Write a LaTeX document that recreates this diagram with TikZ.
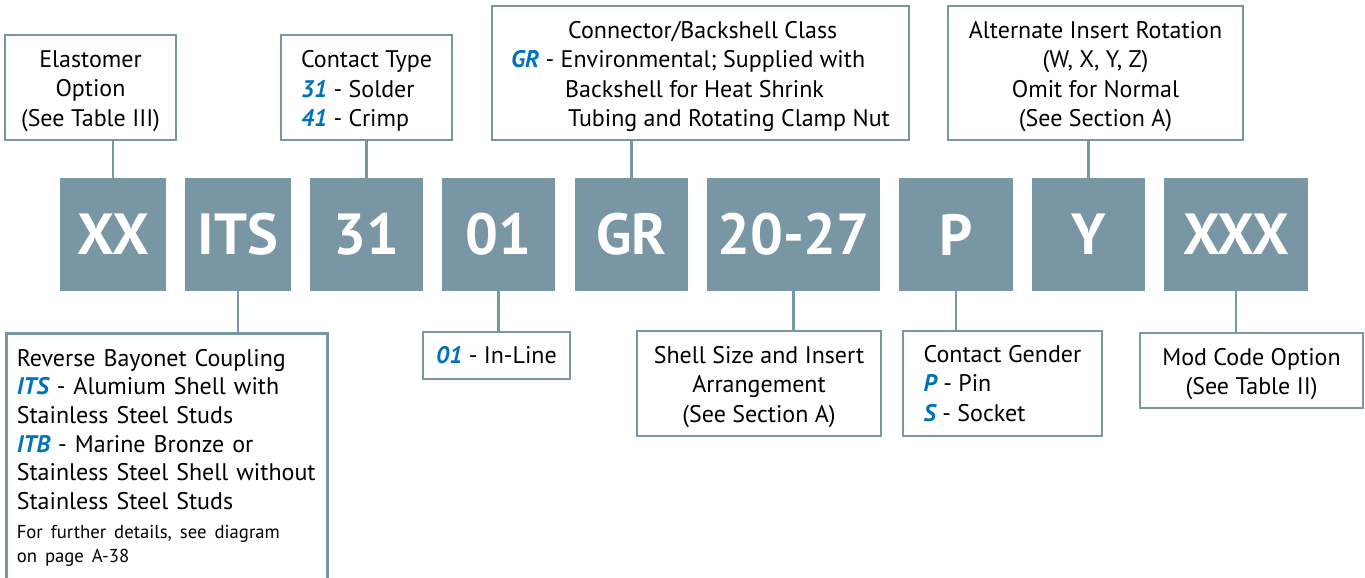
\documentclass[tikz,border=0pt]{standalone}
\usepackage{fontspec}
\setmainfont{PT Sans}
\definecolor{slate}{RGB}{121,150,164}
\definecolor{selblue}{RGB}{0,114,188}
\newcommand{\sel}[1]{{\color{selblue}\bfseries\itshape #1}}
\newcommand{\fine}{\fontsize{18.7}{24}\selectfont}
\newcommand{\lift}{\rule{0pt}{24pt}}

\begin{document}
\begin{tikzpicture}[x=1pt,y=1pt,yscale=-1,xscale=1,
  codebox/.style={fill=slate, text=white, minimum height=113pt, inner sep=0pt,
    font=\fontsize{58}{60}\selectfont\bfseries},
  infobox/.style={draw=slate, line width=2.6pt, fill=white, inner sep=0pt,
    font=\fontsize{24}{29.5}\selectfont},
  link/.style={draw=slate, line width=2.6pt}]
\useasboundingbox (0,0) rectangle (1365,578);
\clip (0,0) rectangle (1365,578);

% Code boxes
\node [codebox, minimum width=106pt] (xx)  at (113,234.5)   {XX};
\node [codebox, minimum width=106pt] (its) at (238,234.5)   {ITS};
\node [codebox, minimum width=113pt] (ct)  at (366.5,234.5) {31};
\node [codebox, minimum width=113pt] (sty) at (498.5,234.5) {01};
\node [codebox, minimum width=113pt] (cls) at (631.5,234.5) {GR};
\node [codebox, minimum width=173pt] (sz)  at (793.5,234.5) {20-27};
\node [codebox, minimum width=114pt] (gen) at (956,234.5)   {P};
\node [codebox, minimum width=113pt] (rot) at (1088.5,234.5) {Y};
\node [codebox, minimum width=144pt] (mod) at (1236,234.5)  {XXX};

% Top boxes
\node [infobox, minimum width=171pt, minimum height=105pt, align=center] (elast) at (90.5,87.5)
  {\lift Elastomer\\ Option\\ (See Table III)};
\node [infobox, minimum width=171pt, minimum height=105pt, align=left] (ctype) at (366.5,87.5)
  {\lift Contact Type\\ \sel{31} - Solder\\ \sel{41} - Crimp};
\node [infobox, minimum width=417pt, minimum height=134pt, align=left] (bclass) at (700.5,73)
  {\lift\hspace*{57pt}Connector/Backshell Class\\ \sel{GR} - Environmental; Supplied with\\
   \hspace*{54pt}Backshell for Heat Shrink\\ \hspace*{57pt}Tubing and Rotating Clamp Nut};
\node [infobox, minimum width=295pt, minimum height=134pt, align=center] (altrot) at (1095.5,73)
  {\lift Alternate Insert Rotation\\ (W, X, Y, Z)\\ Omit for Normal\\ (See Section A)};

% Bottom boxes
\node [infobox, anchor=north west, minimum width=321pt, text width=300pt, align=left,
  inner xsep=10.5pt, inner ysep=16pt, font=\fontsize{24}{28.6}\selectfont] (coup) at (5,332)
  {\hyphenpenalty=10000 Reverse Bayonet Coupling\\ \sel{ITS} - Alumium Shell with\\ Stainless Steel Studs\\
   \sel{ITB} - Marine Bronze or\\ Stainless Steel Shell without\\ Stainless Steel Studs\par
   \vspace{5pt}\fine For further details, see diagram\\ on page A-38\par
   \rule{0pt}{30pt}};
\node [infobox, minimum width=147pt, minimum height=47pt] (inline) at (496.5,355.5)
  {\sel{01} - In-Line};
\node [infobox, minimum width=244pt, minimum height=105pt, align=center] (shell) at (759,383.5)
  {\lift Shell Size and Insert\\ Arrangement\\ (See Section A)};
\node [infobox, minimum width=199pt, minimum height=105pt, align=left] (cgen) at (1002.5,383.5)
  {Contact Gender\\ \sel{P} - Pin\\ \sel{S} - Socket};
\node [infobox, minimum width=223pt, minimum height=75pt, align=center] (mcode) at (1251.5,370.5)
  {\lift Mod Code Option\\ (See Table II)};

% Connectors
\draw [link] (xx.north)  -- (xx.north |- elast.south);
\draw [link] (ct.north)  -- (ct.north |- ctype.south);
\draw [link] (cls.north) -- (cls.north |- bclass.south);
\draw [link] (rot.north) -- (rot.north |- altrot.south);
\draw [link] (its.south) -- (its.south |- coup.north);
\draw [link] (sty.south) -- (sty.south |- inline.north);
\draw [link] (sz.south)  -- (sz.south |- shell.north);
\draw [link] (gen.south) -- (gen.south |- cgen.north);
\draw [link] (mod.south) -- (mod.south |- mcode.north);

\end{tikzpicture}
\end{document}
